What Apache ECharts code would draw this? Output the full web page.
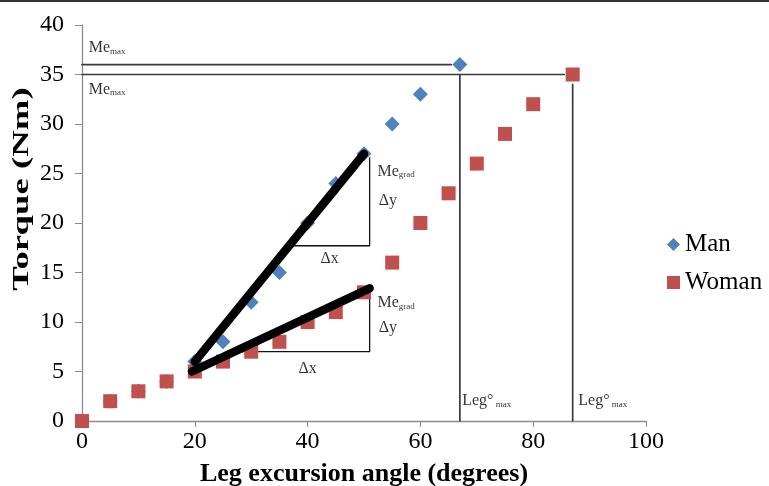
<!DOCTYPE html>
<html>
<head>
<meta charset="utf-8">
<script src="https://cdn.jsdelivr.net/npm/echarts@6/dist/echarts.min.js"></script>
<style>html,body{margin:0;padding:0;background:#fff;}#c{width:769px;height:486px;}</style>
</head>
<body>
<div id="c"></div>
<script>
// Data
var manAngle   = [0, 5, 10, 15, 20, 25, 30, 35, 40, 45, 50, 55, 60, 67];
var manTorque  = [0, 2, 3, 4, 6, 8, 12, 15, 20, 24, 27, 30, 33, 36];
var womanAngle  = [0, 5, 10, 15, 20, 25, 30, 35, 40, 45, 50, 55, 60, 65, 70, 75, 80, 87];
var womanTorque = [0, 2, 3, 4, 5, 6, 7, 8, 10, 11, 13, 16, 20, 23, 26, 29, 32, 35];
// gradient fit lines (start/end points)
var manGradLine   = [[20, 6], [50, 27]];
var womanGradLine = [[19.5, 5], [51, 13.4]];
// slope triangles
var manTriangle   = [[36.7, 17.7], [51, 17.7], [51, 26.6]];
var womanTriangle = [[28, 7], [51, 7], [51, 13.1]];
// max guide lines
var manMaxH   = [[0, 36], [65.5, 36]];
var manMaxV   = [[67, 35], [67, 0]];
var womanMaxH = [[0, 35], [85.5, 35]];
var womanMaxV = [[87, 34], [87, 0]];
// annotation texts [x, y, text]
var annotations = [
  [1.2, 37.7, 'me'], [1.2, 33.5, 'me'],
  [52.4, 25.2, 'mg'], [52.6, 22.2, 'dy'], [42.3, 16.4, 'dx'],
  [52.4, 11.9, 'mg'], [52.6, 9.4, 'dy'], [38.4, 5.25, 'dx'],
  [67.4, 2.0, 'leg'], [88, 2.0, 'leg']
];
var xTicks = {min: 0, max: 100, interval: 20};
var yTicks = {min: 0, max: 40, interval: 5};
var xTitle = 'Leg excursion angle (degrees)';
var yTitle = 'Torque (Nm)';

function zip(a, b) { return a.map(function (v, i) { return [v, b[i]]; }); }

var serif = '"Liberation Serif", "Times New Roman", serif';
var guide = '#3a3a3a';

function lineSeries(data, color, width) {
  return {
    type: 'line', data: data, symbol: 'none', silent: true,
    lineStyle: {color: color, width: width, cap: 'round'},
    z: 3
  };
}

var textMap = {
  me: '{b|Me}{s|max}',
  mg: '{b|Me}{s|grad}',
  dy: '{b|Δy}',
  dx: '{b|Δx}',
  leg: '{b|Leg°}{s| max}'
};

var chart = echarts.init(document.getElementById('c'));
chart.setOption({
  animation: false,
  backgroundColor: '#fff',
  grid: {left: 82, right: 123, top: 25, bottom: 65, containLabel: false, outerBoundsMode: 'none'},
  legend: {
    data: [{name: 'Man', icon: 'diamond'}, {name: 'Woman', icon: 'rect'}],
    orient: 'vertical', left: 662, top: 227,
    itemWidth: 13, itemHeight: 13, itemGap: 13,
    textStyle: {fontFamily: serif, fontSize: 25, color: '#000'}
  },
  xAxis: {
    type: 'value', min: xTicks.min, max: xTicks.max, interval: xTicks.interval,
    name: xTitle, nameLocation: 'middle', nameGap: 40,
    nameTextStyle: {fontFamily: serif, fontSize: 26, fontWeight: 'bold', color: '#000'},
    axisLine: {onZero: false, lineStyle: {color: '#8c8c8c', width: 1.3}},
    axisTick: {show: true, length: 6, lineStyle: {color: '#8c8c8c'}},
    axisLabel: {fontFamily: serif, fontSize: 24, color: '#000', margin: 9},
    splitLine: {show: false}
  },
  yAxis: {
    type: 'value', min: yTicks.min, max: yTicks.max, interval: yTicks.interval,
    axisLine: {show: true, lineStyle: {color: '#8c8c8c', width: 1.3}},
    axisTick: {show: true, length: 7, lineStyle: {color: '#8c8c8c'}},
    axisLabel: {fontFamily: serif, fontSize: 24, color: '#000', margin: 18},
    splitLine: {show: false}
  },
  series: [
    lineSeries(manMaxH, guide, 1.7),
    lineSeries(manMaxV, guide, 1.7),
    lineSeries(womanMaxH, guide, 1.7),
    lineSeries(womanMaxV, guide, 1.7),
    {
      name: 'Man', type: 'scatter', data: zip(manAngle, manTorque),
      symbol: 'diamond', symbolSize: [15, 15], itemStyle: {color: '#4F81BD', opacity: 1}, z: 4
    },
    {
      name: 'Woman', type: 'scatter', data: zip(womanAngle, womanTorque),
      symbol: 'rect', symbolSize: [14, 14], itemStyle: {color: '#C0504D', opacity: 1}, z: 5
    },
    lineSeries(manTriangle, '#111', 1.3),
    lineSeries(womanTriangle, '#111', 1.3),
    Object.assign(lineSeries(manGradLine, '#000', 8.5), {z: 6}),
    Object.assign(lineSeries(womanGradLine, '#000', 8.5), {z: 6}),
    {
      type: 'scatter', silent: true, symbolSize: 0, z: 7,
      data: annotations.map(function (a) { return {value: [a[0], a[1]], t: a[2]}; }),
      label: {
        show: true, position: 'right', distance: 0,
        align: 'left', verticalAlign: 'middle',
        formatter: function (p) { return textMap[p.data.t]; },
        rich: {
          b: {fontFamily: serif, fontSize: 16, color: '#000'},
          s: {fontFamily: serif, fontSize: 9, color: '#000', verticalAlign: 'bottom', padding: [7, 0, 0, 0]}
        }
      }
    }
  ],
  graphic: [
    {type: 'rect', shape: {x: 0, y: 0, width: 769, height: 2}, style: {fill: '#333'}},
    {
      type: 'text', x: 22, y: 189, rotation: Math.PI / 2, scaleX: 1.6,
      style: {
        text: yTitle, font: 'bold 23px ' + serif, fill: '#000',
        textAlign: 'center', textVerticalAlign: 'middle'
      }
    }
  ]
});
</script>
</body>
</html>
